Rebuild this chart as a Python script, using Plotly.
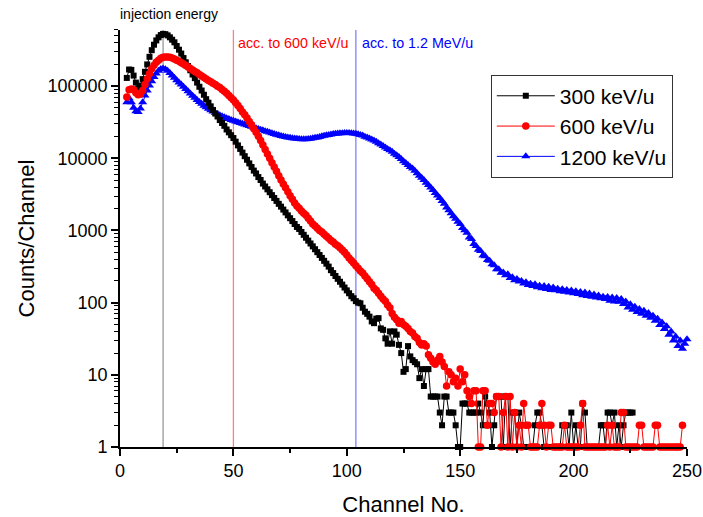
import plotly.graph_objects as go

# ---------------- data ----------------
channels = list(range(3, 251))

counts_300 = [
    130000, 170000, 168000, 140000, 112000, 93000, 102000, 125000, 158000, 200000,   # 3-12
    255000, 315000, 375000, 430000, 475000, 510000, 530000, 525000, 505000, 475000,  # 13-22
    440000, 405000, 360000, 320000, 283000, 245000, 214000, 190000, 166000, 145000,  # 23-32
    129000, 112000, 98000, 87000, 76000, 66000, 59000, 52500, 46800, 41700,          # 33-42
    38000, 33900, 30900, 28200, 25100, 22900, 20900, 19100, 17000, 15100,            # 43-52
    13500, 12000, 10700, 9550, 8510, 7590, 6760, 6170, 5500, 5010,                   # 53-62
    4470, 4070, 3720, 3390, 3090, 2820, 2570, 2340, 2140, 1950,                      # 63-72
    1780, 1620, 1480, 1350, 1230, 1120, 1050, 955, 871, 794,                         # 73-82
    724, 661, 603, 550, 501, 457, 417, 380, 347, 316,                                # 83-92
    282, 257, 234, 214, 195, 178, 162, 148, 135, 123,                                # 93-102
    115, 105, 100, 98, 85, 75, 70, 64, 55, 52,                                       # 103-112
    60, 61, 44, 42, 32, 27, 40, 27, 40, 36,                                          # 113-122
    26, 20, 11, 12, 25, 18, 16, 15, 14, 9,                                           # 123-132
    12, 7, 12, 12, 5, 5, 5, 5, 3, 2,                                                 # 133-142
    5, 5, 3, 3, 3, 2, 1, 1, 4, 4,                                                    # 143-152
    4, 3, 3, 3, 3, 4, 3, 2, 5, 4,                                                    # 153-162
    3, 1, 2, 5, 5, 5, 1, 5, 5, 1,                                                    # 163-172
    3, 3, 1, 3, 2, 1, 1, 1, 1, 1,                                                    # 173-182
    2, 3, 3, 2, 1, 1, 1, 1, 1, 1,                                                    # 183-192
    1, 1, 2, 2, 2, 1, 3, 1, 2, 1,                                                    # 193-202
    1, 4, 3, 1, 1, 1, 1, 1, 1, 2,                                                    # 203-212
    2, 1, 3, 3, 2, 3, 1, 2, 1, 2,                                                    # 213-222
    3, 3, 3, 3, None, None, None, None, None, None,                                  # 223-232
    None, None, None, None, None, None, None, None, None, None,                      # 233-242
    None, None, None, None, None, None, None, None,                                  # 243-250
]

counts_600 = [
    71000, 89000, 91000, 89000, 81000, 76000, 78000, 87000, 105000, 126000,          # 3-12
    148000, 174000, 195000, 214000, 229000, 243000, 251000, 254000, 254000, 251000,  # 13-22
    245000, 237000, 229000, 221000, 211000, 202000, 193000, 184000, 176000, 168000,  # 23-32
    160000, 153000, 145000, 138000, 132000, 126000, 120000, 115000, 110000, 105000,  # 33-42
    100000, 95500, 90000, 85000, 79500, 74000, 69000, 64500, 59000, 54000,           # 43-52
    49000, 44000, 40000, 36300, 32400, 29200, 25700, 22900, 20200, 17600,            # 53-62
    15300, 13200, 11500, 10000, 8700, 7600, 6600, 5750, 5000, 4400,                  # 63-72
    3900, 3430, 3020, 2700, 2400, 2190, 2040, 1860, 1740, 1620,                      # 73-82
    1480, 1350, 1230, 1150, 1070, 1000, 955, 890, 830, 780,                          # 83-92
    725, 690, 645, 615, 575, 535, 500, 457, 415, 385,                                # 93-102
    355, 325, 300, 275, 257, 235, 215, 195, 178, 158,                                # 103-112
    148, 135, 123, 112, 105, 93, 85, 71, 63, 58,                                     # 113-122
    52, 55, 50, 47, 44, 40, 38, 34, 32, 28,                                          # 123-132
    26, 27, 25, 19, 17, 15, 14, 16, 18, 15,                                          # 133-142
    13, 7, 11, 10, 8, 9, 7, 12, 8, 10,                                               # 143-152
    6, 5, 4, 6, 6, 1, 1, 6, 6, 2,                                                    # 153-162
    4, 4, 3, 5, 5, 1, 3, 5, 1, 5,                                                    # 163-172
    1, 3, 1, 2, 1, 4, 2, 2, 1, 1,                                                    # 173-182
    1, 1, 2, 4, 2, 1, 2, 2, 1, 1,                                                    # 183-192
    1, 1, 1, 2, 1, 1, 1, 1, 1, 1,                                                    # 193-202
    2, 4, 1, 1, 1, 1, 1, 1, 1, 1,                                                    # 203-212
    1, 1, 2, 1, 2, 1, 1, 1, 3, 3,                                                    # 213-222
    1, 1, 1, 1, 1, 1, 2, 2, 1, 1,                                                    # 223-232
    1, 1, 1, 2, 2, 1, 1, 1, 1, 1,                                                    # 233-242
    1, 1, 1, 1, 1, 2, None, None,                                                    # 243-250
]

counts_1200 = [
    60000, 68000, 60000, 50000, 45000, 44000, 49000, 60000, 74000, 87000,            # 3-12
    102000, 117000, 134000, 150000, 164000, 173000, 176000, 172000, 163000, 152000,  # 13-22
    141000, 131000, 121000, 112000, 105000, 98000, 91000, 85000, 79000, 73500,       # 23-32
    69000, 64500, 60500, 57000, 53700, 51000, 48500, 46500, 44500, 42700,            # 33-42
    41000, 39500, 38200, 37000, 36000, 35000, 34000, 33100, 32300, 31500,            # 43-52
    30800, 30100, 29400, 28700, 28000, 27300, 26700, 26100, 25500, 24900,            # 53-62
    24400, 23800, 23300, 22700, 22200, 21700, 21200, 20800, 20400, 20100,            # 63-72
    19800, 19500, 19200, 19000, 18800, 18600, 18500, 18400, 18400, 18400,            # 73-82
    18500, 18700, 18900, 19200, 19500, 19800, 20200, 20500, 20800, 21100,            # 83-92
    21400, 21700, 21900, 22100, 22200, 22300, 22400, 22400, 22400, 22300,            # 93-102
    22100, 21900, 21600, 21100, 20700, 19900, 19500, 18800, 18200, 17600,            # 103-112
    17000, 16200, 15500, 14800, 14100, 13500, 12900, 12300, 11600, 11000,            # 113-122
    10400, 9800, 9100, 8600, 8100, 7600, 7200, 6700, 6200, 5750,                     # 123-132
    5400, 5000, 4600, 4270, 3940, 3630, 3310, 3060, 2820, 2570,                      # 133-142
    2340, 2090, 1910, 1740, 1580, 1450, 1320, 1230, 1080, 1010,                      # 143-152
    930, 800, 760, 650, 610, 540, 520, 450, 440, 390,                                # 153-162
    380, 340, 330, 290, 290, 260, 262, 240, 248, 220,                                # 163-172
    225, 205, 212, 196, 200, 185, 192, 176, 183, 170,                                # 173-182
    180, 164, 172, 158, 170, 155, 166, 150, 162, 148,                                # 183-192
    156, 144, 154, 142, 150, 138, 147, 135, 144, 132,                                # 193-202
    140, 127, 138, 124, 134, 121, 130, 118, 126, 115,                                # 203-212
    121, 112, 120, 106, 118, 104, 116, 103, 112, 96,                                 # 213-222
    104, 86, 95, 80, 88, 74, 82, 70, 77, 66,                                         # 223-232
    72, 62, 66, 56, 60, 49, 53, 43, 47, 36,                                          # 233-242
    40, 30, 34, 25, 30, 23, 27, 31,                                                  # 243-250
]

x_tick_vals = [0, 50, 100, 150, 200, 250]
x_minor_vals = [25, 75, 125, 175, 225]
y_tick_vals = [1, 10, 100, 1000, 10000, 100000]
y_tick_text = ["1", "10", "100", "1000", "10000", "100000"]

ref_lines = [(19, "#9a9a9a"), (50, "#ff8080"), (104, "#8080ff")]

FONT = "Liberation Sans, Arial, sans-serif"

fig = go.Figure()

fig.add_trace(go.Scatter(
    x=channels, y=counts_1200, name="1200 keV/u", mode="lines+markers",
    line=dict(color="#0000ff", width=1),
    marker=dict(symbol="triangle-up", size=8, color="#0000ff"),
    cliponaxis=False, legendrank=3))
fig.add_trace(go.Scatter(
    x=channels, y=counts_300, name="300 keV/u", mode="lines+markers",
    line=dict(color="black", width=1),
    marker=dict(symbol="square", size=6, color="black"),
    cliponaxis=False, legendrank=1))
fig.add_trace(go.Scatter(
    x=channels, y=counts_600, name="600 keV/u", mode="lines+markers",
    line=dict(color="#ff0000", width=1),
    marker=dict(symbol="circle", size=7.5, color="#ff0000"),
    cliponaxis=False, legendrank=2))

# vertical reference lines
for ch, lcol in ref_lines:
    fig.add_shape(type="line", xref="x", yref="paper", x0=ch, x1=ch, y0=0, y1=1,
                  line=dict(color=lcol, width=1.3), layer="below")

fig.add_annotation(text="injection energy", xref="paper", yref="paper", x=-0.004, y=1.038,
                   xanchor="left", yanchor="middle", showarrow=False,
                   font=dict(family=FONT, size=14, color="black"))
fig.add_annotation(text="acc. to 600 keV/u", xref="x", yref="paper", x=51.3, y=0.97,
                   xanchor="left", yanchor="middle", showarrow=False,
                   font=dict(family=FONT, size=14.3, color="#ff0000"))
fig.add_annotation(text="acc. to 1.2 MeV/u", xref="x", yref="paper", x=105.6, y=0.97,
                   xanchor="left", yanchor="middle", showarrow=False,
                   font=dict(family=FONT, size=14.3, color="#0000ff"))

fig.update_layout(
    width=703, height=517,
    margin=dict(l=120, r=16, t=30, b=70),
    paper_bgcolor="white", plot_bgcolor="white",
    font=dict(family=FONT, color="black"),
    showlegend=True,
    legend=dict(x=0.654, y=0.893, xanchor="left", yanchor="top",
                bgcolor="white", bordercolor="#333333", borderwidth=1,
                font=dict(family=FONT, size=21, color="black"),
                itemwidth=58, tracegroupgap=0),
    xaxis=dict(range=[0, 250], tickvals=x_tick_vals, ticks="outside", ticklen=7,
               tickwidth=1.5, tickcolor="black", showline=True, linecolor="black",
               linewidth=1.6, showgrid=False, zeroline=False, automargin=False,
               tickfont=dict(family=FONT, size=18, color="black"),
               minor=dict(tickvals=x_minor_vals, ticks="outside", ticklen=4,
                          tickwidth=1.5, tickcolor="black", showgrid=False),
               title=dict(text="Channel No.", font=dict(family=FONT, size=22),
                          standoff=17)),
    yaxis=dict(type="log", range=[0, 5.778], tickvals=y_tick_vals, ticktext=y_tick_text,
               ticks="outside", ticklen=7, tickwidth=1.5, tickcolor="black",
               showline=True, linecolor="black", linewidth=1.6, showgrid=False,
               zeroline=False, automargin=False,
               tickfont=dict(family=FONT, size=18, color="black"),
               minor=dict(dtick="D1", ticks="outside", ticklen=4, tickwidth=1.2,
                          tickcolor="black", showgrid=False),
               title=dict(text="Counts/Channel", font=dict(family=FONT, size=22),
                          standoff=7)),
)

fig.write_html("out.html")
